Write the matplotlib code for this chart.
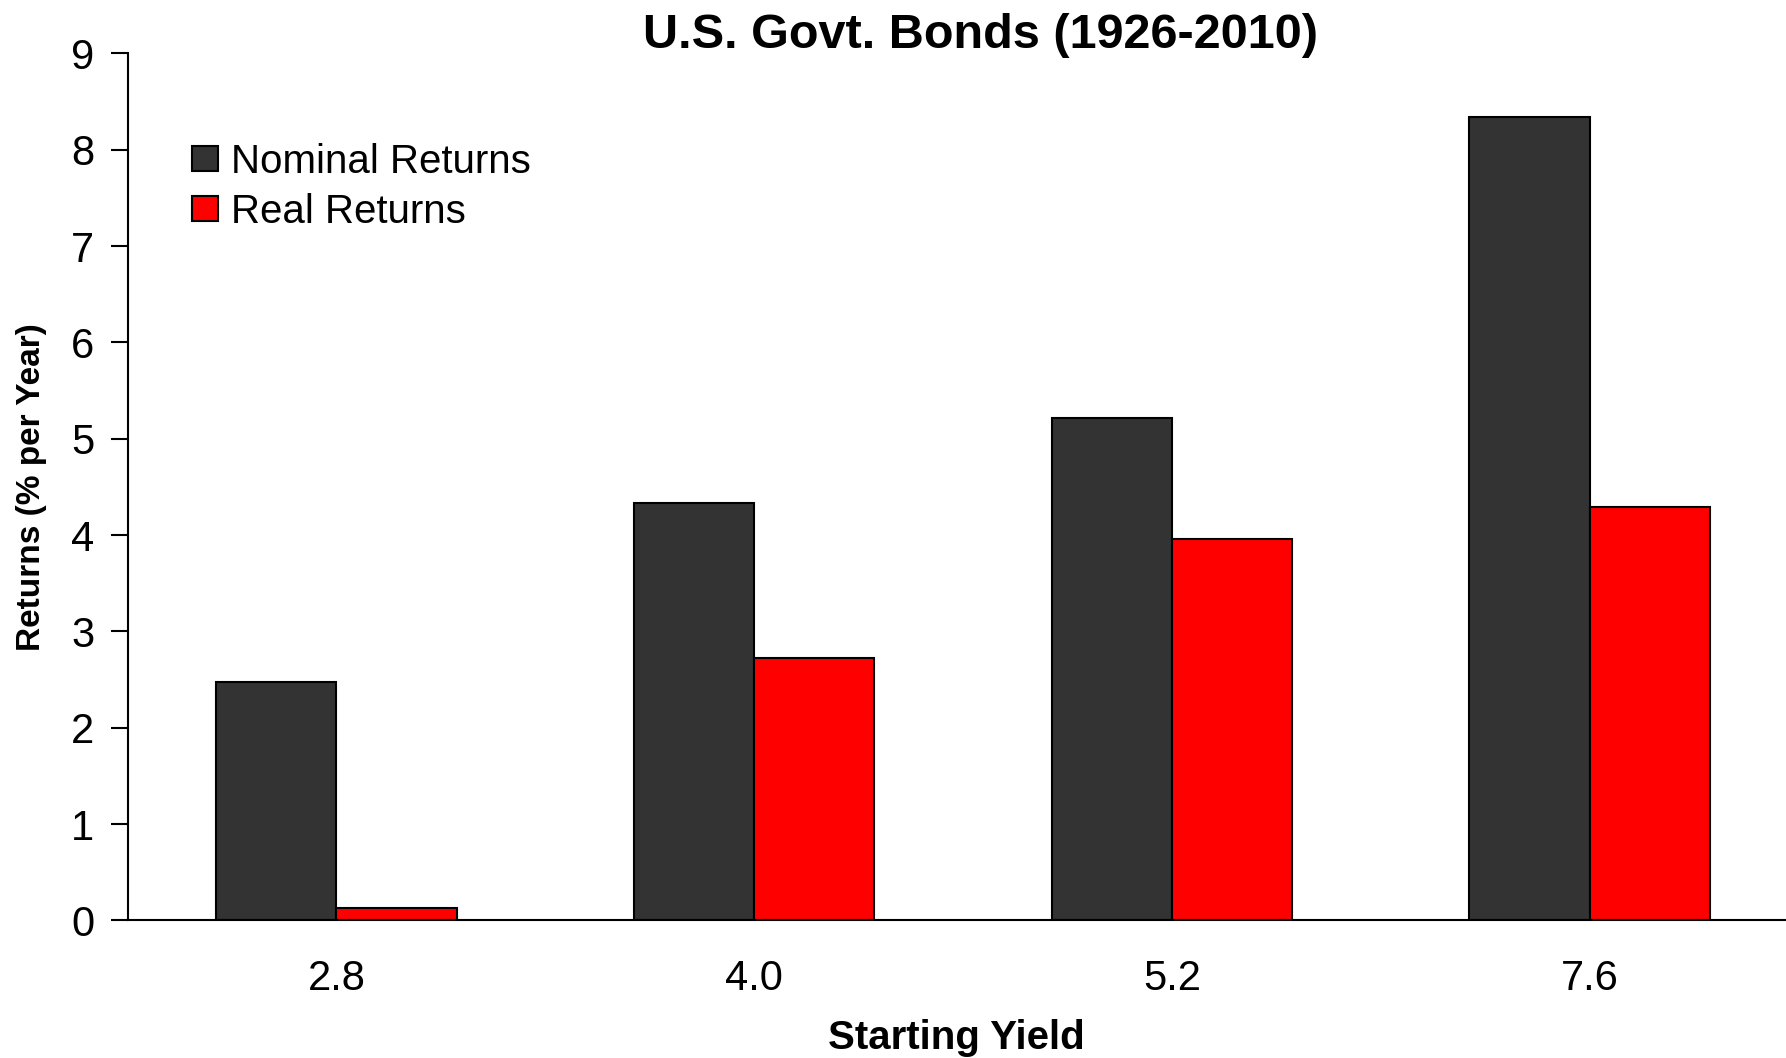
import numpy as np
import matplotlib
matplotlib.use("Agg")
import matplotlib.pyplot as plt

plt.rcParams["font.family"] = ["Liberation Sans", "DejaVu Sans"]

# Données
yields = ["2.8", "4.0", "5.2", "7.6"]
nominal = [2.48, 4.33, 5.22, 8.34]
real = [0.13, 2.72, 3.96, 4.29]

fig = plt.figure(figsize=(17.86, 10.58), dpi=100)
ax = fig.add_axes([0.0714, 0.13, 0.9286, 0.8195])

x = np.arange(len(yields))
w = 0.288
ax.bar(x - w / 2, nominal, w, color="#333333", edgecolor="black", linewidth=1.5, label="Nominal Returns")
ax.bar(x + w / 2, real, w, color="#ff0000", edgecolor="black", linewidth=1.5, label="Real Returns")

ax.set_xlim(-0.5, 3.47)
ax.set_ylim(0, 9)
ax.set_yticks(range(0, 10))
ax.set_xticks(x)
ax.set_xticklabels(yields)
ax.tick_params(axis="y", labelsize=30, length=12, width=1.5, pad=12)
ax.tick_params(axis="x", labelsize=30, length=0, pad=28)

for s in ["top", "right"]:
    ax.spines[s].set_visible(False)
ax.spines["left"].set_linewidth(1.5)
ax.spines["bottom"].set_linewidth(1.5)

ax.set_xlabel("Starting Yield", fontsize=29, fontweight="bold")
ax.xaxis.set_label_coords(0.5, -0.114)
ax.set_ylabel("Returns (% per Year)", fontsize=24, fontweight="bold", va="center")
ax.yaxis.set_label_coords(-0.058, 0.5)
fig.text(0.549, 0.966, "U.S. Govt. Bonds (1926-2010)", fontsize=35, fontweight="bold", ha="center", va="center")

ax.legend(loc="upper left", bbox_to_anchor=(0.039, 0.897), frameon=False, fontsize=29,
          handlelength=0.65, handleheight=0.6, handletextpad=0.31, labelspacing=0.3,
          borderpad=0, borderaxespad=0)

fig.savefig("out.png", dpi=100)
